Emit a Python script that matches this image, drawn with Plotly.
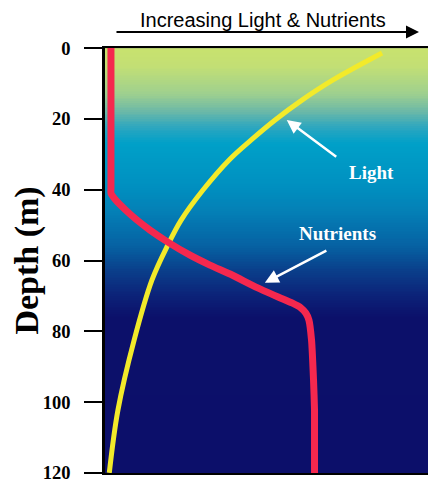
import plotly.graph_objects as go

# ---- data ----
depth_ticks = [0, 20, 40, 60, 80, 100, 120]
tick_labels = ["0", "20", "40", "60", "80", "100", "120"]

light_depth = [1.4, 9.0, 14.7, 20.3, 26.0, 31.6, 40.1, 48.6, 55.6, 65.5, 82.5, 102.3, 120]
light_value = [83.7, 68.9, 59.5, 51.4, 44.1, 37.5, 29.6, 23.0, 19.0, 14.2, 8.8, 3.9, 1.3]

nutr_depth = [0, 39.5, 41.0, 43.0, 45.8, 48.6, 51.4, 54.8, 58.5, 61.3, 64.1, 67.5, 70.3,
              72.0, 73.4, 74.9, 76.8, 82.5, 93.8, 102.3, 120]
nutr_value = [1.8, 1.8, 1.8, 3.3, 6.3, 9.7, 13.6, 19.0, 25.7, 31.7, 38.4, 45.6, 52.3,
              56.5, 59.2, 60.7, 61.6, 62.4, 63.0, 63.3, 63.3]

# background gradient (depth stops -> colour)
bg_depth = [0, 5, 13, 18, 22.6, 27, 39, 46, 56, 63, 70, 76, 120]
bg_color = ["#c8e26e", "#c3df74", "#9ecf8f", "#6ab8a8", "#2aa6c0", "#00a0c8",
            "#0090c0", "#0480b6", "#0661a2", "#0a3e8a", "#0c2278", "#0c106a", "#0c0f6a"]

fig = go.Figure()

# gradient background as heatmap
n = 240
ys = [120 * i / n for i in range(n + 1)]
zc = [[(ys[i] + ys[i + 1]) / 2, (ys[i] + ys[i + 1]) / 2] for i in range(n)]
cs = [[d / 120, c] for d, c in zip(bg_depth, bg_color)]
fig.add_trace(go.Heatmap(x=[0, 50, 100], y=ys, z=zc, colorscale=cs, zmin=0, zmax=120,
                         showscale=False, hoverinfo="skip"))

fig.add_trace(go.Scatter(x=light_value, y=light_depth, mode="lines",
                         line=dict(color="#f2ea2a", width=5, shape="spline", smoothing=1.0),
                         hoverinfo="skip", showlegend=False))
fig.add_trace(go.Scatter(x=nutr_value, y=nutr_depth, mode="lines",
                         line=dict(color="#f5284e", width=7, shape="spline", smoothing=0.5),
                         hoverinfo="skip", showlegend=False))

serif_b = dict(family="Liberation Serif, Times New Roman, serif", weight="bold")

fig.update_xaxes(range=[0, 100], showgrid=False, zeroline=False, showticklabels=False,
                 ticks="", showline=True, mirror=True, linecolor="black", linewidth=2,
                 automargin=False)
fig.update_yaxes(range=[120.03, -0.03], tickvals=depth_ticks, ticktext=tick_labels,
                 ticks="outside", ticklen=18, tickwidth=2, tickcolor="black",
                 ticklabeloverflow="allow", automargin=False,
                 showgrid=False, zeroline=False, showline=True, linecolor="black", linewidth=2.5,
                 tickfont=dict(size=18.5, color="black", **serif_b), ticklabelstandoff=10,
                 title=dict(text="Depth (m)", font=dict(size=34, color="black", **serif_b),
                            standoff=6))

annotations = [
    # top arrow + label
    dict(xref="paper", yref="paper", x=0.9486, y=1.0376, ax=-304, ay=0,
         showarrow=True, arrowhead=2, arrowsize=1.3, arrowwidth=2, arrowcolor="black",
         text=""),
    dict(xref="paper", yref="paper", x=0.478, y=1.066, text="Increasing Light & Nutrients",
         showarrow=False, yanchor="middle",
         font=dict(family="Liberation Sans, Arial, sans-serif", size=20, color="black")),
    # Light label
    dict(xref="x", yref="y", x=54.9, y=20.3, ax=51, ay=38, text="",
         showarrow=True, arrowhead=2, arrowsize=1.1, arrowwidth=2.5, arrowcolor="white"),
    dict(xref="x", yref="y", x=80.5, y=35.0, text="Light", showarrow=False,
         font=dict(size=19, color="white", **serif_b)),
    # Nutrients label
    dict(xref="x", yref="y", x=48.3, y=66.3, ax=63, ay=-33, text="",
         showarrow=True, arrowhead=2, arrowsize=1.1, arrowwidth=2.5, arrowcolor="white"),
    dict(xref="x", yref="y", x=70.2, y=52.3, text="Nutrients", showarrow=False,
         font=dict(size=19, color="white", **serif_b)),
]

# page body has an 8px margin, so the figure is offset by 8px; margins compensate
fig.update_layout(width=428, height=474, margin=dict(l=97, r=0, t=40, b=9),
                  paper_bgcolor="white", plot_bgcolor="#0c0f6a", showlegend=False,
                  annotations=annotations)

fig.write_html("out.html")
